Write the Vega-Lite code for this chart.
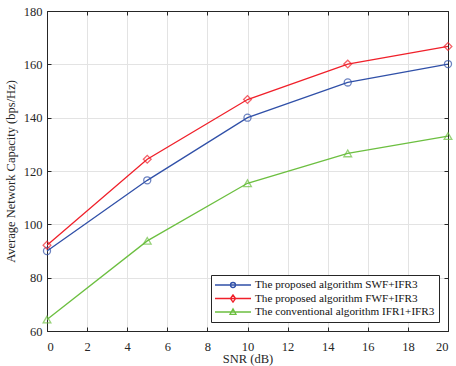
{
  "$schema": "https://vega.github.io/schema/vega-lite/v6.json",
  "width": 401,
  "height": 320,
  "autosize": {"type": "none"},
  "padding": {"left": 47, "top": 11, "right": 8, "bottom": 35},
  "background": "white",
  "config": {
    "font": "Liberation Serif",
    "view": {"stroke": "#262626", "strokeWidth": 1},
    "axis": {
      "labelFont": "Liberation Serif",
      "titleFont": "Liberation Serif",
      "labelFontSize": 12.5,
      "titleFontSize": 12.5,
      "titleFontWeight": "normal",
      "labelColor": "#262626",
      "titleColor": "#262626",
      "domainColor": "#262626",
      "tickColor": "#262626",
      "gridColor": "#e3e3e3",
      "gridWidth": 1
    },
    "legend": {
      "title": null,
      "orient": "bottom-right",
      "offset": 9,
      "fillColor": "white",
      "strokeColor": "#262626",
      "padding": 4,
      "labelFont": "Liberation Serif",
      "labelFontSize": 11.2,
      "labelColor": "#111111",
      "labelLimit": 300,
      "symbolSize": 100,
      "symbolStrokeWidth": 1.3
    }
  },
  "data": {
    "values": [
      {"snr": 0, "cap": 90.0, "alg": "The proposed algorithm SWF+IFR3"},
      {"snr": 5, "cap": 116.5, "alg": "The proposed algorithm SWF+IFR3"},
      {"snr": 10, "cap": 140.0, "alg": "The proposed algorithm SWF+IFR3"},
      {"snr": 15, "cap": 153.2, "alg": "The proposed algorithm SWF+IFR3"},
      {"snr": 20, "cap": 160.1, "alg": "The proposed algorithm SWF+IFR3"},
      {"snr": 0, "cap": 92.2, "alg": "The proposed algorithm FWF+IFR3"},
      {"snr": 5, "cap": 124.4, "alg": "The proposed algorithm FWF+IFR3"},
      {"snr": 10, "cap": 146.8, "alg": "The proposed algorithm FWF+IFR3"},
      {"snr": 15, "cap": 160.1, "alg": "The proposed algorithm FWF+IFR3"},
      {"snr": 20, "cap": 166.7, "alg": "The proposed algorithm FWF+IFR3"},
      {"snr": 0, "cap": 64.3, "alg": "The conventional algorithm IFR1+IFR3"},
      {"snr": 5, "cap": 93.8, "alg": "The conventional algorithm IFR1+IFR3"},
      {"snr": 10, "cap": 115.4, "alg": "The conventional algorithm IFR1+IFR3"},
      {"snr": 15, "cap": 126.6, "alg": "The conventional algorithm IFR1+IFR3"},
      {"snr": 20, "cap": 133.1, "alg": "The conventional algorithm IFR1+IFR3"}
    ]
  },
  "encoding": {
    "color": {
      "field": "alg", "type": "nominal",
      "scale": {
        "domain": ["The proposed algorithm SWF+IFR3", "The proposed algorithm FWF+IFR3", "The conventional algorithm IFR1+IFR3"],
        "range": ["#3050a8", "#f0202a", "#6cbf40"]
      },
      "legend": {
        "rowPadding": 0.5,
        "encode": {
          "symbols": {
            "update": {
              "shape": {"signal": "datum.index === 0 ? 'M-3.6,0H3.6M0.5,0A0.5,0.5,0,1,1,-0.5,0A0.5,0.5,0,1,1,0.5,0Z' : datum.index === 1 ? 'M-3.6,0H3.6M0,-0.72L0.52,0L0,0.72L-0.52,0Z' : 'M-3.6,0H3.6M0,-0.64L0.6,0.48L-0.6,0.48Z'"},
              "x": {"value": 18},
              "fill": {"value": "transparent"},
              "strokeWidth": {"value": 1.3}
            }
          },
          "labels": {
            "update": {
              "x": {"value": 40}
            }
          }
        }
      }
    }
  },
  "resolve": {"axis": {"x": "independent", "y": "independent"}},
  "layer": [
    {
      "mark": {"type": "line", "strokeWidth": 1.3},
      "encoding": {
        "x": {"field": "snr", "type": "quantitative", "scale": {"domain": [0, 20]}, "axis": null},
        "y": {"field": "cap", "type": "quantitative", "scale": {"domain": [60, 180]}, "axis": null}
      }
    },
    {
      "transform": [{"filter": "datum.alg === 'The proposed algorithm SWF+IFR3'"}],
      "mark": {"type": "point", "shape": "circle", "filled": false, "size": 50, "strokeWidth": 1.3},
      "encoding": {
        "x": {
          "field": "snr", "type": "quantitative", "title": "SNR (dB)",
          "axis": {"values": [0, 2, 4, 6, 8, 10, 12, 14, 16, 18, 20], "tickSize": -4, "labelPadding": 13, "titlePadding": 0, "grid": true}
        },
        "y": {
          "field": "cap", "type": "quantitative", "title": "Average Network Capacity (bps/Hz)",
          "axis": {"values": [60, 80, 100, 120, 140, 160, 180], "tickSize": -4, "labelPadding": 9, "titlePadding": 6, "grid": true}
        }
      }
    },
    {
      "transform": [{"filter": "datum.alg === 'The proposed algorithm FWF+IFR3'"}],
      "mark": {"type": "point", "shape": "diamond", "filled": false, "size": 60, "strokeWidth": 1.3},
      "encoding": {
        "x": {"field": "snr", "type": "quantitative", "axis": null},
        "y": {"field": "cap", "type": "quantitative", "axis": null}
      }
    },
    {
      "transform": [{"filter": "datum.alg === 'The conventional algorithm IFR1+IFR3'"}],
      "mark": {"type": "point", "shape": "triangle-up", "filled": false, "size": 60, "strokeWidth": 1.3},
      "encoding": {
        "x": {"field": "snr", "type": "quantitative", "axis": null},
        "y": {"field": "cap", "type": "quantitative", "axis": null}
      }
    },
    {
      "mark": {"type": "point", "opacity": 0},
      "encoding": {
        "x": {"field": "snr", "type": "quantitative", "axis": {"orient": "top", "values": [0, 2, 4, 6, 8, 10, 12, 14, 16, 18, 20], "tickSize": -4, "labels": false, "title": null, "grid": false}},
        "y": {"field": "cap", "type": "quantitative", "axis": {"orient": "right", "values": [60, 80, 100, 120, 140, 160, 180], "tickSize": -4, "labels": false, "title": null, "grid": false}}
      }
    }
  ]
}
